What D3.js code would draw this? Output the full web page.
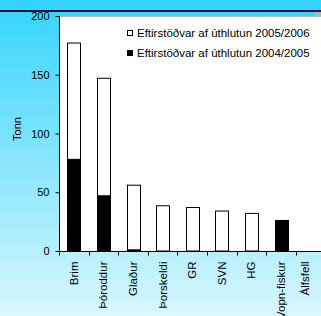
<!DOCTYPE html>
<html lang="is">
<head>
  <meta charset="UTF-8">
  <title>Eftirstöðvar af úthlutun</title>
  <script src="https://d3js.org/d3.v7.min.js"></script>
  <style>
    body { margin: 0; font-family: 'Liberation Sans', Arial, sans-serif; }
    svg text { font-family: 'Liberation Sans', Arial, sans-serif; fill: #000; }
  </style>
</head>
<body>
  <svg width="321" height="316"></svg>

  <script>
    const categories = ["Brim", "Þóroddur", "Glaður", "Þorskeldi", "GR", "SVN", "HG", "Vopn-fiskur", "Álfsfell"];
    // 2004/2005 remainder (black, bottom part)
    const rest0405 = [78, 47, 1, 0, 0, 0, 0, 26, 0];
    // 2005/2006 remainder (white, stacked on top)
    const rest0506 = [99, 100, 55, 38.5, 37, 34, 32, 0, 0];
    const yTicks = [0, 50, 100, 150, 200];
    const legendLabels = ["Eftirstöðvar af úthlutun 2005/2006", "Eftirstöðvar af úthlutun 2004/2005"];

    const svg = d3.select("svg"),
      width = +svg.attr("width"),
      height = +svg.attr("height");

    // background gradient
    const grad = svg.append("defs").append("linearGradient")
      .attr("id", "bg").attr("x1", 0).attr("y1", 0).attr("x2", 0).attr("y2", 1);
    grad.append("stop").attr("offset", "0%").attr("stop-color", "#33d4fd");
    grad.append("stop").attr("offset", "100%").attr("stop-color", "#d9f7fe");
    svg.append("rect").attr("width", width).attr("height", height).attr("fill", "url(#bg)");

    // dark line near the top and gray box at the corner
    svg.append("rect").attr("x", 0).attr("y", 10).attr("width", width).attr("height", 2).attr("fill", "#3a0a3c");
    svg.append("rect").attr("x", 315).attr("y", 12).attr("width", 6).attr("height", 5).attr("fill", "#b4b4b4");

    const pLeft = 59, pTop = 16, pBottom = 251, pRight = 325.5;

    const x = d3.scaleBand().domain(categories).range([pLeft, pRight]).paddingInner(0).paddingOuter(0);
    const y = d3.scaleLinear().domain([0, 200]).range([pBottom, pTop]);

    // plot area
    svg.append("rect").attr("x", pLeft).attr("y", pTop).attr("width", width - pLeft).attr("height", pBottom - pTop)
      .attr("fill", "#fff");
    svg.append("line").attr("x1", pLeft).attr("x2", width).attr("y1", pTop + 0.5).attr("y2", pTop + 0.5)
      .attr("stroke", "#bbb");

    const table = categories.map((c, i) => ({ cat: c, a: rest0405[i], b: rest0506[i] }));
    const series = d3.stack().keys(["a", "b"])(table);
    const fills = { a: "#000", b: "#fff" };

    const barW = x.bandwidth() * 0.43;
    series.forEach(s => {
      svg.append("g").selectAll("rect")
        .data(s.filter(d => d[1] - d[0] > 0))
        .join("rect")
          .attr("x", d => Math.round(x(d.data.cat) + (x.bandwidth() - barW) / 2) + 0.5)
          .attr("y", d => y(d[1]))
          .attr("width", Math.round(barW))
          .attr("height", d => y(d[0]) - y(d[1]))
          .attr("fill", fills[s.key])
          .attr("stroke", "#000")
          .attr("stroke-width", 1);
    });

    // y axis
    const yAxis = svg.append("g")
      .attr("transform", `translate(${pLeft + 0.5},0)`)
      .call(d3.axisLeft(y).tickValues(yTicks).tickSize(4).tickPadding(6));
    yAxis.select(".domain").attr("d", `M-0,${pTop}V${pBottom}`).attr("stroke", "#000");
    yAxis.selectAll("text").style("font-size", "11px");

    // x axis
    const xAxis = svg.append("g").attr("transform", `translate(0,${pBottom + 0.5})`);
    xAxis.append("line").attr("x1", pLeft).attr("x2", width).attr("stroke", "#000");
    xAxis.selectAll(".tk")
      .data(categories)
      .join("line")
        .attr("x1", d => Math.round(x(d)) + 0.5)
        .attr("x2", d => Math.round(x(d)) + 0.5)
        .attr("y1", 0).attr("y2", 4)
        .attr("stroke", "#000");
    xAxis.selectAll("text")
      .data(categories)
      .join("text")
        .attr("transform", d => `translate(${Math.min(x(d) + x.bandwidth() / 2, width - 16) + 4},10) rotate(-90)`)
        .attr("text-anchor", "end")
        .style("font-size", "11.5px")
        .text(d => d);

    // y label
    svg.append("text")
      .attr("transform", "translate(21,129) rotate(-90)")
      .attr("text-anchor", "middle")
      .style("font-size", "11px")
      .text("Tonn");

    // legend
    const legend = svg.append("g").attr("transform", "translate(127,30)");
    legendLabels.forEach((t, i) => {
      const row = legend.append("g").attr("transform", `translate(0,${i * 20})`);
      row.append("rect").attr("x", 0.5).attr("y", 0.5).attr("width", 5).attr("height", 5)
        .attr("fill", i === 0 ? "#fff" : "#000").attr("stroke", "#000");
      row.append("text").attr("x", 10).attr("y", 7).style("font-size", "11.5px").text(t);
    });
  </script>
</body>
</html>
